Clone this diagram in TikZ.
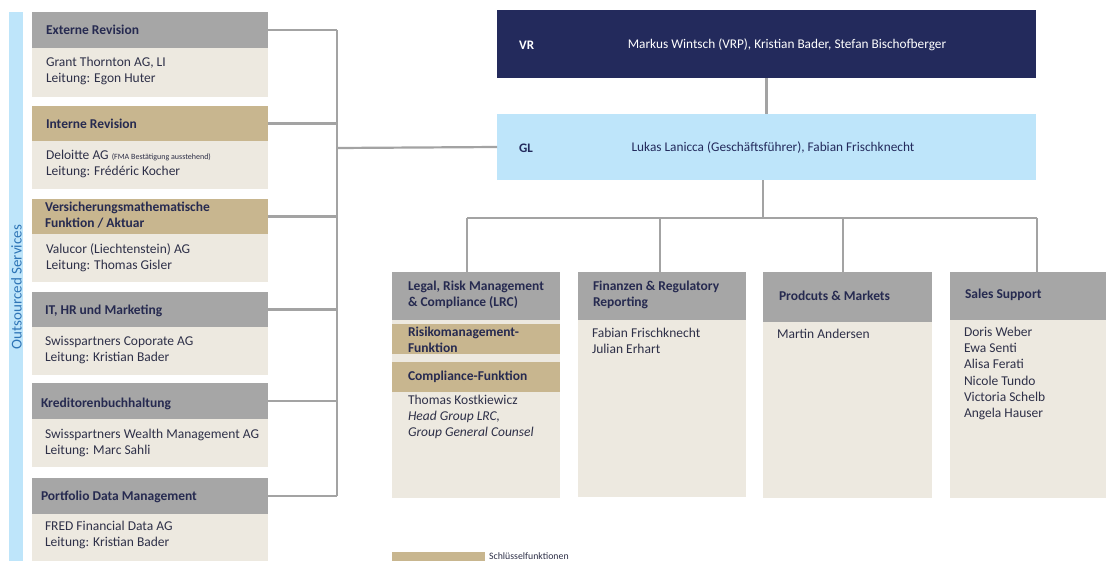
\documentclass[tikz,border=0pt]{standalone}
\usepackage{fontspec}
\setmainfont{Carlito}
\definecolor{hgray}{HTML}{A6A6A6}
\definecolor{beige}{HTML}{EDE9E0}
\definecolor{tanc}{HTML}{C8B68F}
\definecolor{navy}{HTML}{232A5C}
\definecolor{lblue}{HTML}{BEE5FA}
\definecolor{lgray}{HTML}{A3A3A3}
\definecolor{txt}{HTML}{2E3048}
\definecolor{htxt}{HTML}{262A50}
\definecolor{sblue}{HTML}{2E75B6}
\newcommand\rbox[6]{\node[fill=#6,inner sep=0pt,outer sep=0pt,anchor=north west,minimum width={(#4-#2)*1pt},minimum height={(#5-#3)*1pt}] (#1) at (#2,#3) {};}
\begin{document}
\begin{tikzpicture}[x=1pt,y=-1pt,
  tx/.style={inner sep=0pt,outer sep=0pt,anchor=north west,align=left,text=txt,font=\fontsize{13.5}{16.2}\selectfont},
  hx/.style={tx,text=htxt,font=\fontsize{13.5}{16.2}\selectfont\bfseries},
  conn/.style={draw=lgray,line width=2.2pt}]
\useasboundingbox (0,0) rectangle (1106,560);
\fill[white] (0,0) rectangle (1106,560);
% outsourced strip
\rbox{strip}{9}{12}{23}{562}{lblue}
\node[rotate=90,text=sblue,font=\fontsize{15}{18}\selectfont,inner sep=0pt] (os) at (16.5,287) {Outsourced Services};
% left boxes
\rbox{b1}{32}{48}{268}{97}{beige}
\rbox{h1}{32}{12}{268}{48}{hgray}
\rbox{b2}{32}{141}{268}{189}{beige}
\rbox{h2}{32}{106}{268}{141}{tanc}
\rbox{b3}{32}{234}{268}{282}{beige}
\rbox{h3}{32}{199}{268}{234}{tanc}
\rbox{b4}{32}{327}{268}{375}{beige}
\rbox{h4}{32}{292}{268}{327}{hgray}
\rbox{b5}{32}{419}{268}{467}{beige}
\rbox{h5}{32}{383}{268}{419}{hgray}
\rbox{b6}{32}{514}{268}{562}{beige}
\rbox{h6}{32}{478}{268}{514}{hgray}
\node[hx] (th1) at (46,24.7) {Externe Revision};
\node[tx] (tb1) at (46,57.2) {Grant Thornton AG, LI\\Leitung: Egon Huter};
\node[hx] (th2) at (46,118.9) {Interne Revision};
\node[tx] (tb2) at (46,150.2) {Deloitte AG {\fontsize{8}{9}\selectfont (FMA Bestätigung ausstehend)}\\Leitung: Frédéric Kocher};
\node[hx] (th3) at (45,202.2) {Versicherungsmathematische\\Funktion / Aktuar};
\node[tx] (tb3) at (46,243.2) {Valucor (Liechtenstein) AG\\Leitung: Thomas Gisler};
\node[hx] (th4) at (45,304.7) {IT, HR und Marketing};
\node[tx] (tb4) at (45,336.2) {Swisspartners Coporate AG\\Leitung: Kristian Bader};
\node[hx] (th5) at (41,397.7) {Kreditorenbuchhaltung};
\node[tx] (tb5) at (45,429.2) {Swisspartners Wealth Management AG\\Leitung: Marc Sahli};
\node[hx] (th6) at (41,490.7) {Portfolio Data Management};
\node[tx] (tb6) at (45,521.2) {FRED Financial Data AG\\Leitung: Kristian Bader};
% top boxes
\rbox{vr}{497}{10}{1036}{78}{navy}
\rbox{gl}{497}{114}{1036}{180}{lblue}
\node[anchor=west,inner sep=0pt,text=white,font=\fontsize{13}{15}\selectfont\bfseries] (vrl) at (519,45) {VR};
\node[inner sep=0pt,text=white,font=\fontsize{13.3}{15}\selectfont] (vrt) at (787,45) {Markus Wintsch (VRP), Kristian Bader, Stefan Bischofberger};
\node[anchor=west,inner sep=0pt,text=navy,font=\fontsize{13}{15}\selectfont\bfseries] (gll) at (519,148) {GL};
\node[inner sep=0pt,text=navy,font=\fontsize{13.3}{15}\selectfont] (glt) at (773,148) {Lukas Lanicca (Geschäftsführer), Fabian Frischknecht};
% bottom boxes
\rbox{bl}{392}{272}{560}{498}{beige}
\rbox{hl}{392}{272}{560}{320}{hgray}
\rbox{rk}{392}{324}{560}{354}{tanc}
\rbox{cf}{392}{362}{560}{392}{tanc}
\rbox{bf}{578}{272}{746}{497}{beige}
\rbox{hf}{578}{272}{746}{320}{hgray}
\rbox{bp}{763}{272}{932}{498}{beige}
\rbox{hp}{763}{272}{932}{322}{hgray}
\rbox{bs}{950}{272}{1124}{498}{beige}
\rbox{hs}{950}{272}{1124}{320}{hgray}
\node[hx] (thl) at (408,281.2) {Legal, Risk Management\\\& Compliance (LRC)};
\node[hx] (trk) at (408,327.2) {Risikomanagement-\\Funktion};
\node[hx] (tcf) at (408,371.2) {Compliance-Funktion};
\node[tx] (tbl) at (408,395.2) {Thomas Kostkiewicz\\\textit{Head Group LRC,}\\\textit{Group General Counsel}};
\node[hx] (thf) at (593,281.2) {Finanzen \& Regulatory\\Reporting};
\node[tx] (tbf) at (592,328.2) {Fabian Frischknecht\\Julian Erhart};
\node[hx] (thp) at (779,291.2) {Prodcuts \& Markets};
\node[tx] (tbp) at (777,329.2) {Martin Andersen};
\node[hx] (ths) at (965,289.2) {Sales Support};
\node[tx] (tbs) at (964,327.2) {Doris Weber\\Ewa Senti\\Alisa Ferati\\Nicole Tundo\\Victoria Schelb\\Angela Hauser};
% legend
\rbox{lg}{392}{552}{485}{565}{tanc}
\node[anchor=base west,inner sep=0pt,text=txt,font=\fontsize{9.8}{11}\selectfont] (lgt) at (489,559.3) {Schlüsselfunktionen};
% connectors left
\coordinate (lb) at (337,148);
\foreach \h in {h1,h2,h3,h4,h5,h6} {\draw[conn] (\h.east) -- (\h.east -| lb);}
\draw[conn] (h1.east -| lb) -- (h6.east -| lb);
\draw[conn] (lb) -- (gl.west);
% connectors top
\draw[conn] (vr.south) -- (gl.north);
\coordinate (bus) at (763,218);
\draw[conn] (gl.south -| bus) -- (bus);
\coordinate (d1) at (467,218);
\coordinate (d2) at (660,218);
\coordinate (d3) at (843,218);
\coordinate (d4) at (1037,218);
\draw[conn] (d1) -- (d4);
\draw[conn] (d1) -- (d1 |- hl.north);
\draw[conn] (d2) -- (d2 |- hf.north);
\draw[conn] (d3) -- (d3 |- hp.north);
\draw[conn] (d4) -- (d4 |- hs.north);
\end{tikzpicture}
\end{document}
